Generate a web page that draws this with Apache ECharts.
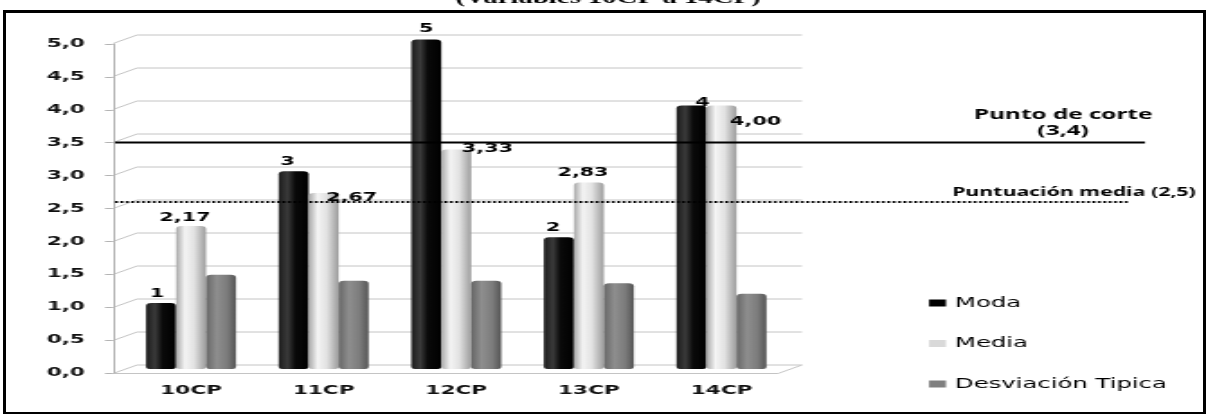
<!DOCTYPE html>
<html>
<head>
<meta charset="utf-8">
<script src="https://cdn.jsdelivr.net/npm/echarts@6/dist/echarts.min.js"></script>
<style>
  html, body { margin: 0; padding: 0; background: #fff; overflow: hidden; }
  /* the chart canvas is drawn narrow and widened horizontally */
  #chart { position: absolute; left: 0; top: 0; width: 672.2px; height: 414px;
           transform: scaleX(1.8); transform-origin: 0 0; }
  #frame { position: absolute; left: 3px; top: 10px; width: 1197px; height: 399px;
           border: 3px solid #000; pointer-events: none; }
</style>
</head>
<body>
<div id="chart"></div>
<div id="frame"></div>
<script>
// ---- data ----
const categories = ['10CP', '11CP', '12CP', '13CP', '14CP'];
const moda = [1, 3, 5, 2, 4];
const media = [2.17, 2.67, 3.33, 2.83, 4.00];
const desviacion = [1.43, 1.34, 1.34, 1.30, 1.14];
const yTicks = [0, 0.5, 1, 1.5, 2, 2.5, 3, 3.5, 4, 4.5, 5];
const yTickLabels = ['0,0', '0,5', '1,0', '1,5', '2,0', '2,5', '3,0', '3,5', '4,0', '4,5', '5,0'];
const cutoff = 3.4;      // Punto de corte
const meanScore = 2.5;   // Puntuación media
const seriesNames = ['Moda', 'Media', 'Desviación Tipica'];
const titleText = '(Variables 10CP a 14CP)';

// ---- layout helpers ----
const S = 1.8;                 // horizontal stretch of the canvas
const X = v => v / S;          // page x (px) -> canvas x
const DEPTH_X = X(24), DEPTH_Y = 8.5;   // perspective offset of the back wall
const comma = v => String(v).replace('.', ',');

// label nudges (page px) so value labels sit where they are wanted
const modaNudge  = [[-4, 1], [-6, 1], [0, 0], [-6, 1], [11, 8]];
const mediaNudge = [[-6, 2], [28, 15], [31, 9], [-6, 1], [34, 27]];

const labelFont = { fontFamily: 'DejaVu Sans', fontWeight: 'bold', fontSize: 11.5, color: '#000' };

function cyl(stops) {
  return { type: 'linear', x: 0, y: 0, x2: 1, y2: 0,
           colorStops: stops.map(s => ({ offset: s[0], color: s[1] })) };
}
const modaFill = cyl([[0, '#1c1c1c'], [0.3, '#3a3a3a'], [0.55, '#0a0a0a'], [1, '#000']]);
const mediaFill = cyl([[0, '#a8a8a8'], [0.3, '#f4f4f4'], [0.6, '#e2e2e2'], [1, '#9c9c9c']]);
const desvFill = cyl([[0, '#666'], [0.35, '#8e8e8e'], [0.7, '#7c7c7c'], [1, '#555']]);

function barSeries(name, values, fill, nudge, fmt) {
  return {
    name, type: 'bar', xAxisIndex: 0, yAxisIndex: 0,
    barWidth: X(30), barGap: '0%',
    itemStyle: { color: fill, borderRadius: [3, 3, 2, 2] },
    label: nudge ? Object.assign({ show: true, position: 'top', distance: 4,
                     formatter: p => fmt(p.value) }, labelFont) : { show: false },
    data: values.map((v, i) => nudge
      ? { value: v, label: { offset: [X(nudge[i][0]), nudge[i][1]] } }
      : v)
  };
}

const hiddenX = gi => ({ type: 'value', gridIndex: gi, min: 0, max: 1, show: false });
const hiddenY = gi => ({ type: 'value', gridIndex: gi, min: 0, max: 5, show: false });

const chart = echarts.init(document.getElementById('chart'), null, { renderer: 'canvas' });

chart.setOption({
  animation: false,
  backgroundColor: 'transparent',
  grid: [
    { left: X(124.7), width: X(663.1), top: 39.5, height: 329.5 },   // bars
    { left: X(113), width: X(10), top: 44, height: 329 },            // front value axis
    { left: X(137), width: X(665), top: 35, height: 330 },           // back wall
    { left: X(115), width: X(1030), top: 37, height: 330 },          // cut-off line
    { left: X(115), width: X(1015), top: 37, height: 330 }           // mean line
  ],
  xAxis: [
    { type: 'category', gridIndex: 0, data: categories,
      axisLine: { show: false }, axisTick: { show: false },
      axisLabel: Object.assign({ margin: 16 }, labelFont, { fontSize: 12, color: '#111' }) },
    hiddenX(1), hiddenX(2), hiddenX(3), hiddenX(4)
  ],
  yAxis: [
    hiddenY(0),
    { type: 'value', gridIndex: 1, min: 0, max: 5, interval: 0.5,
      axisLine: { show: true, lineStyle: { color: '#b4b4b4', width: 1 } },
      axisTick: { show: true, length: X(8), lineStyle: { color: '#b4b4b4' } },
      splitLine: { show: false },
      axisLabel: { margin: X(28), fontFamily: 'DejaVu Sans', fontWeight: 'bold',
                   fontSize: 12, color: '#111',
                   formatter: v => yTickLabels[yTicks.indexOf(Math.round(v * 2) / 2)] } },
    hiddenY(2), hiddenY(3), hiddenY(4)
  ],
  legend: {
    orient: 'vertical', left: X(929), top: 296, padding: 0,
    itemWidth: X(17), itemHeight: 7, itemGap: 26.5, selectedMode: false,
    icon: 'rect',
    textStyle: { fontFamily: 'DejaVu Sans', fontSize: 13.5, color: '#000', lineHeight: 14 },
    data: [
      { name: seriesNames[0], itemStyle: { color: '#000' } },
      { name: seriesNames[1], itemStyle: { color: '#d9d9d9' } },
      { name: seriesNames[2], itemStyle: { color: '#7f7f7f' } }
    ]
  },
  graphic: [
    { type: 'text', x: X(608), y: 7,
      style: { text: titleText, font: 'bold 16px "Liberation Serif"', fill: '#000',
               textAlign: 'center', textVerticalAlign: 'bottom', align: 'center', verticalAlign: 'bottom' } },
    { type: 'text', x: X(1063), y: 107,
      style: { text: 'Punto de corte\n(' + comma(cutoff) + ')', font: 'bold 13.5px "Open Sans"',
               lineHeight: 16, fill: '#000',
               textAlign: 'center', textVerticalAlign: 'top', align: 'center', verticalAlign: 'top' } },
    { type: 'text', x: X(952), y: 193,
      style: { text: 'Puntuación media (' + comma(meanScore) + ')', font: 'bold 11.8px "Open Sans"',
               fill: '#000',
               textAlign: 'left', textVerticalAlign: 'middle', align: 'left', verticalAlign: 'middle' } }
  ],
  series: [
    // back wall gridlines, their perspective edges and the floor
    { type: 'custom', xAxisIndex: 2, yAxisIndex: 2, silent: true, z: 0,
      data: yTicks.map(v => [0, v]),
      renderItem: (params, api) => {
        const v = api.value(1);
        const pl = api.coord([0, v]);
        const pr = api.coord([1, v]);
        const style = { stroke: '#c4c4c4', lineWidth: 1, fill: null };
        const children = [{ type: 'polyline', shape: { points: [[pl[0] - DEPTH_X, pl[1] + DEPTH_Y], pl, pr] }, style }];
        if (v === 0) {
          children.push({ type: 'polyline', style,
            shape: { points: [[pl[0] - DEPTH_X, pl[1] + DEPTH_Y], [pr[0] - DEPTH_X, pr[1] + DEPTH_Y], pr] } });
        }
        return { type: 'group', children };
      } },
    barSeries(seriesNames[0], moda, modaFill, modaNudge, v => comma(v)),
    barSeries(seriesNames[1], media, mediaFill, mediaNudge, v => v.toFixed(2).replace('.', ',')),
    barSeries(seriesNames[2], desviacion, desvFill, null, null),
    { type: 'line', xAxisIndex: 3, yAxisIndex: 3, silent: true, symbol: 'none', z: 5,
      lineStyle: { color: '#000', width: 2 },
      data: [[0, cutoff], [1, cutoff]] },
    { type: 'line', xAxisIndex: 4, yAxisIndex: 4, silent: true, symbol: 'none', z: 5,
      lineStyle: { color: '#000', width: 2, type: [1.6, 1.4] },
      data: [[0, meanScore], [1, meanScore]] }
  ]
});
</script>
</body>
</html>
